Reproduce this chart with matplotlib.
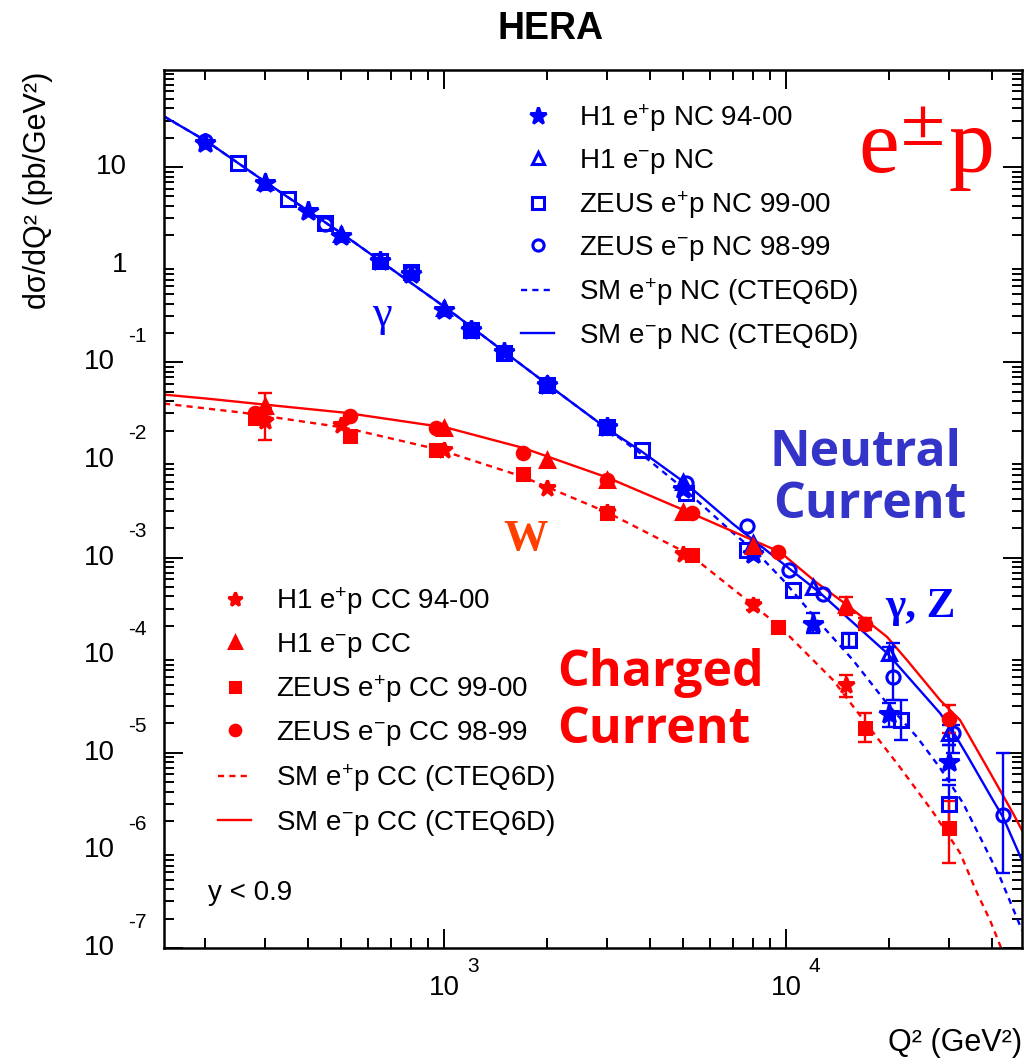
import numpy as np
import matplotlib
matplotlib.use("Agg")
import matplotlib.pyplot as plt
from matplotlib import transforms

# -----------------------------
# fonts
# -----------------------------
plt.rcParams['font.family'] = ['Liberation Sans', 'DejaVu Sans']
plt.rcParams['mathtext.fontset'] = 'custom'
plt.rcParams['mathtext.rm'] = 'Liberation Sans'
plt.rcParams['mathtext.it'] = 'Liberation Sans:italic'
plt.rcParams['mathtext.bf'] = 'Liberation Sans:bold'

BLUE = '#0000ff'
RED = '#ff0000'

# -----------------------------
# SM curves (Q2 in GeV2, dsigma/dQ2 in pb/GeV2)
# -----------------------------
nc_em_q2 = [152, 203, 302, 513, 1020, 2040, 2960, 3800, 5070, 7000, 10000, 12570,
            19740, 28200, 30780, 33800, 40270, 43100, 48970]
nc_em_val = [33.1, 18.3, 6.97, 1.99, 0.356, 0.057, 0.0216, 0.0121, 0.00583, 0.00221,
             8.2e-4, 4.35e-4, 1.05e-4, 2.55e-5, 1.65e-5, 9.5e-6, 3.27e-6, 2.19e-6, 7.9e-7]

nc_ep_q2 = [152, 203, 302, 513, 1020, 2040, 2960, 3800, 5070, 7000, 8220, 9800, 12320,
            15700, 19740, 24150, 28200, 32930, 37670, 42240, 48970]
nc_ep_val = [33.1, 18.3, 6.97, 1.99, 0.356, 0.057, 0.0216, 0.0113, 0.00495, 0.00179,
             0.00112, 5.9e-4, 2.3e-4, 8.9e-5, 3.2e-5, 1.45e-5, 7.0e-6, 3.05e-6, 1.19e-6,
             5.3e-7, 1.52e-7]

cc_em_q2 = [152, 203, 302, 513, 1020, 1702, 3017, 5240, 9605, 12320, 15070, 19740,
            22580, 28200, 32280, 38700, 46100, 48970]
cc_em_val = [0.0467, 0.0425, 0.0368, 0.0305, 0.0214, 0.0133, 0.00657, 0.00288, 0.00114,
             5.5e-4, 3.27e-4, 1.54e-4, 8.9e-5, 3.47e-5, 2.16e-5, 7.1e-6, 2.4e-6, 1.61e-6]

cc_ep_q2 = [152, 258, 513, 973, 1702, 3017, 5240, 8009, 9605, 13720, 17020, 21540,
            26900, 32280, 36190, 39500, 42810]
cc_ep_val = [0.0378, 0.0305, 0.0214, 0.0127, 0.00673, 0.00288, 0.00107, 3.27e-4, 1.95e-4,
             5.57e-5, 2.07e-5, 7.1e-6, 2.47e-6, 9.4e-7, 3.66e-7, 1.92e-7, 9.5e-8]

# -----------------------------
# NC data
# -----------------------------
nc_h1_ep_q2 = [200, 300, 400, 500, 650, 800, 1000, 1200, 1500, 2000, 3000, 5000, 8000,
               12000, 20000, 30000]
nc_h1_ep_val = [17.8, 6.9, 3.54, 1.96, 1.09, 0.80, 0.347, 0.216, 0.128, 0.059, 0.022,
                0.0050, 0.0011, 2.1e-4, 2.5e-5, 8.0e-6]
nc_h1_ep_elo = [0, 0, 0, 0, 0, 0, 0, 0, 0, 0, 0, 0, 0, 0.41e-4, 0.66e-5, 2.75e-6]
nc_h1_ep_ehi = [0, 0, 0, 0, 0, 0, 0, 0, 0, 0, 0, 0, 0, 0.61e-4, 0.74e-5, 4.0e-6]

nc_h1_em_q2 = [300, 500, 1000, 2000, 3000, 5000, 8000, 12000, 20000, 30000]
nc_h1_em_val = [6.97, 2.05, 0.36, 0.060, 0.0215, 0.0060, 0.0014, 5.0e-4, 1.05e-4, 1.6e-5]
nc_h1_em_elo = [0, 0, 0, 0, 0, 0, 0, 0, 0.15e-4, 0.4e-5]
nc_h1_em_ehi = [0, 0, 0, 0, 0, 0, 0, 0, 0.15e-4, 0.32e-5]

nc_zeus_ep_q2 = [250, 350, 450, 650, 800, 1200, 1500, 2000, 3000, 3800, 5100, 7700,
                 10500, 15300, 21700, 30000]
nc_zeus_ep_val = [11.1, 4.67, 2.69, 1.09, 0.85, 0.216, 0.125, 0.059, 0.022, 0.0127,
                  0.0046, 0.0012, 4.7e-4, 1.44e-4, 2.18e-5, 3.0e-6]
nc_zeus_ep_elo = [0, 0, 0, 0, 0, 0, 0, 0, 0, 0, 0, 0, 0, 0.24e-4, 0.83e-5, 1.4e-6]
nc_zeus_ep_ehi = [0, 0, 0, 0, 0, 0, 0, 0, 0, 0, 0, 0, 0, 0.26e-4, 1.29e-5, 1.7e-6]

nc_zeus_em_q2 = [200, 450, 800, 1200, 2000, 3000, 5100, 7700, 10200, 12800, 20500,
                 30700, 43000]
nc_zeus_em_val = [18.3, 2.6, 0.85, 0.22, 0.06, 0.0215, 0.0058, 0.0021, 7.5e-4, 4.2e-4,
                  6.0e-5, 1.58e-5, 2.3e-6]
nc_zeus_em_elo = [0, 0, 0, 0, 0, 0, 0, 0, 0, 0, 2.5e-5, 0.59e-5, 1.71e-6]
nc_zeus_em_ehi = [0, 0, 0, 0, 0, 0, 0, 0, 0, 0, 7.3e-5, 0.34e-5, 7.7e-6]

# -----------------------------
# CC data
# -----------------------------
cc_h1_ep_q2 = [300, 500, 1000, 2000, 3000, 5000, 8000, 15000]
cc_h1_ep_val = [0.025, 0.0229, 0.0127, 0.0051, 0.0029, 0.0011, 3.27e-4, 4.9e-5]
cc_h1_ep_elo = [0.0089, 0, 0, 0, 0, 0, 0.37e-4, 1.2e-5]
cc_h1_ep_ehi = [0.0093, 0, 0, 0, 0, 0, 0.43e-4, 1.34e-5]

cc_h1_em_q2 = [300, 1000, 2000, 3000, 5000, 8000, 15000]
cc_h1_em_val = [0.0354, 0.021, 0.0100, 0.0063, 0.0029, 0.0013, 3.3e-4]
cc_h1_em_elo = [0.0104, 0, 0, 0, 0, 0, 0.72e-4]
cc_h1_em_ehi = [0.0135, 0, 0, 0, 0, 0, 0.68e-4]

cc_zeus_ep_q2 = [280, 530, 950, 1700, 3000, 5300, 9500, 17000, 30000]
cc_zeus_ep_val = [0.0269, 0.0174, 0.0127, 0.0071, 0.00285, 0.00107, 1.96e-4, 1.78e-5, 1.68e-6]
cc_zeus_ep_elo = [0, 0, 0, 0, 0, 0, 0, 0.49e-5, 0.94e-6]
cc_zeus_ep_ehi = [0, 0, 0, 0, 0, 0, 0, 0.77e-5, 1.56e-6]

cc_zeus_em_q2 = [280, 530, 950, 1700, 3000, 5300, 9500, 17000, 30000]
cc_zeus_em_val = [0.0303, 0.0279, 0.0212, 0.0119, 0.0063, 0.00285, 0.00114, 2.1e-4, 2.2e-5]
cc_zeus_em_elo = [0, 0, 0, 0, 0, 0, 0, 0.3e-4, 0.6e-5]
cc_zeus_em_ehi = [0, 0, 0, 0, 0, 0, 0, 0.3e-4, 0.9e-5]

# -----------------------------
# figure
# -----------------------------
W, H = 1024, 1064
fig = plt.figure(figsize=(W / 100, H / 100), dpi=100)


def fx(px):
    return px / W


def fy(py):
    return 1 - py / H


ax = fig.add_axes([fx(164), fy(948), fx(1022) - fx(164), fy(69.5) - fy(948)])
ax.set_xscale('log')
ax.set_yscale('log')
ax.set_xlim(152, 48970)
ax.set_ylim(1e-7, 1e2)

for s in ax.spines.values():
    s.set_linewidth(1.8)
ax.tick_params(which='both', direction='in', top=True, right=True, width=1.4,
               labelleft=False, labelbottom=False)
ax.tick_params(which='major', length=14)
ax.tick_params(which='minor', length=7)
ax.yaxis.set_minor_locator(matplotlib.ticker.LogLocator(base=10, subs=np.arange(2, 10), numticks=20))

dash = (0, (2.6, 2.2))
l_nc_ep, = ax.plot(nc_ep_q2, nc_ep_val, color=BLUE, lw=1.7, ls=dash)
l_nc_em, = ax.plot(nc_em_q2, nc_em_val, color=BLUE, lw=1.7)
l_cc_ep, = ax.plot(cc_ep_q2, cc_ep_val, color=RED, lw=1.7, ls=dash)
l_cc_em, = ax.plot(cc_em_q2, cc_em_val, color=RED, lw=1.7)


def draw_points(q2, val, elo, ehi, marker, color, ms, filled):
    q2 = np.array(q2, float)
    val = np.array(val, float)
    elo = np.array(elo, float)
    ehi = np.array(ehi, float)
    m = (elo > 0) | (ehi > 0)
    if m.any():
        ax.errorbar(q2[m], val[m], yerr=[elo[m], ehi[m]], fmt='none', ecolor=color,
                    elinewidth=1.7, capsize=5, capthick=1.7, zorder=3)
    h, = ax.plot(q2, val, ls='none', marker=marker, ms=ms, color=color,
                 mfc=color if filled else 'none', mec=color, mew=2.2, zorder=4)
    return h


h_nc1 = draw_points(nc_h1_ep_q2, nc_h1_ep_val, nc_h1_ep_elo, nc_h1_ep_ehi, '*', BLUE, 15, True)
h_nc2 = draw_points(nc_h1_em_q2, nc_h1_em_val, nc_h1_em_elo, nc_h1_em_ehi, '^', BLUE, 10.5, False)
h_nc3 = draw_points(nc_zeus_ep_q2, nc_zeus_ep_val, nc_zeus_ep_elo, nc_zeus_ep_ehi, 's', BLUE, 10.5, False)
h_nc4 = draw_points(nc_zeus_em_q2, nc_zeus_em_val, nc_zeus_em_elo, nc_zeus_em_ehi, 'o', BLUE, 9.5, False)

h_cc1 = draw_points(cc_h1_ep_q2, cc_h1_ep_val, cc_h1_ep_elo, cc_h1_ep_ehi, '*', RED, 12, True)
h_cc2 = draw_points(cc_h1_em_q2, cc_h1_em_val, cc_h1_em_elo, cc_h1_em_ehi, '^', RED, 9.5, True)
h_cc3 = draw_points(cc_zeus_ep_q2, cc_zeus_ep_val, cc_zeus_ep_elo, cc_zeus_ep_ehi, 's', RED, 8.5, True)
h_cc4 = draw_points(cc_zeus_em_q2, cc_zeus_em_val, cc_zeus_em_elo, cc_zeus_em_ehi, 'o', RED, 9, True)

# -----------------------------
# legends
# -----------------------------
leg_kw = dict(loc='upper left', bbox_transform=fig.transFigure, frameon=False,
              borderpad=0, borderaxespad=0, fontsize=20, numpoints=1,
              handlelength=1.2, handletextpad=0.9, markerscale=0.85)
leg1 = ax.legend([h_nc1, h_nc2, h_nc3, h_nc4, l_nc_ep, l_nc_em],
                 [r'H1 e$^{+}$p NC 94-00', r'H1 e$^{-}$p NC', r'ZEUS e$^{+}$p NC 99-00',
                  r'ZEUS e$^{-}$p NC 98-99', r'SM e$^{+}$p NC (CTEQ6D)', r'SM e$^{-}$p NC (CTEQ6D)'],
                 bbox_to_anchor=(fx(521), fy(102)), labelspacing=0.475, **leg_kw)
ax.add_artist(leg1)
leg2 = ax.legend([h_cc1, h_cc2, h_cc3, h_cc4, l_cc_ep, l_cc_em],
                 [r'H1 e$^{+}$p CC 94-00', r'H1 e$^{-}$p CC', r'ZEUS e$^{+}$p CC 99-00',
                  r'ZEUS e$^{-}$p CC 98-99', r'SM e$^{+}$p CC (CTEQ6D)', r'SM e$^{-}$p CC (CTEQ6D)'],
                 bbox_to_anchor=(fx(218), fy(585)), labelspacing=0.5, **leg_kw)

# -----------------------------
# tick labels (ROOT style)
# -----------------------------
ytr = ax.get_yaxis_transform()
for k in range(-7, 2):
    v = 10.0 ** k
    if k >= 0:
        ax.text((127 - 164) / 858, v, '1' if k == 0 else '10', transform=ytr,
                ha='right', va='center', fontsize=20)
    else:
        ax.text((115 - 164) / 858, v, '10', transform=ytr, ha='right', va='center', fontsize=20)
        ax.text((128 - 164) / 858, v, '-%d' % (-k),
                transform=ytr + transforms.ScaledTranslation(0, 0.26, fig.dpi_scale_trans),
                ha='left', va='center', fontsize=15)

xtr = ax.get_xaxis_transform()
for k in [3, 4]:
    v = 10.0 ** k
    ax.text(v, (948 - 988) / 878.5, '10', transform=xtr, ha='center', va='center', fontsize=20)
    ax.text(v, (948 - 988) / 878.5, str(k),
            transform=xtr + transforms.ScaledTranslation(0.23, 0.21, fig.dpi_scale_trans),
            ha='left', va='center', fontsize=15)

# -----------------------------
# labels and annotations
# -----------------------------
fig.text(fx(551), fy(29), 'HERA', ha='center', va='center', fontsize=27, fontweight='bold')
fig.text(fx(38), fy(72), 'dσ/dQ² (pb/GeV²)', rotation=90, ha='center', va='top', fontsize=22)
fig.text(fx(1022), fy(1043), 'Q² (GeV²)', ha='right', va='center', fontsize=22)
fig.text(fx(208), fy(893), 'y < 0.9', ha='left', va='center', fontsize=20)

fig.text(fx(858), fy(173), r'e$^{\pm}$p', family='Liberation Serif', math_fontfamily='stix',
         fontsize=66, color=RED, ha='left', va='baseline')
fig.text(fx(372), fy(326), 'γ', family='Liberation Serif', fontsize=32, color=BLUE,
         ha='left', va='baseline')
fig.text(fx(885), fy(617), 'γ, Z', family='Liberation Serif', fontweight='bold', fontsize=31,
         color=BLUE, ha='left', va='baseline')
fig.text(fx(503), fy(550), 'W', family='Liberation Serif', fontweight='bold', fontsize=32,
         color='#ff4000', ha='left', va='baseline')

fig.text(fx(770), fy(466), 'Neutral', family='Open Sans', fontweight='bold', fontsize=36,
         color='#3434c8', ha='left', va='baseline')
fig.text(fx(773), fy(518), 'Current', family='Open Sans', fontweight='bold', fontsize=36,
         color='#3434c8', ha='left', va='baseline')
fig.text(fx(557), fy(686), 'Charged', family='Open Sans', fontweight='bold', fontsize=36,
         color=RED, ha='left', va='baseline')
fig.text(fx(557), fy(743), 'Current', family='Open Sans', fontweight='bold', fontsize=36,
         color=RED, ha='left', va='baseline')

fig.savefig('out.png', dpi=100)
